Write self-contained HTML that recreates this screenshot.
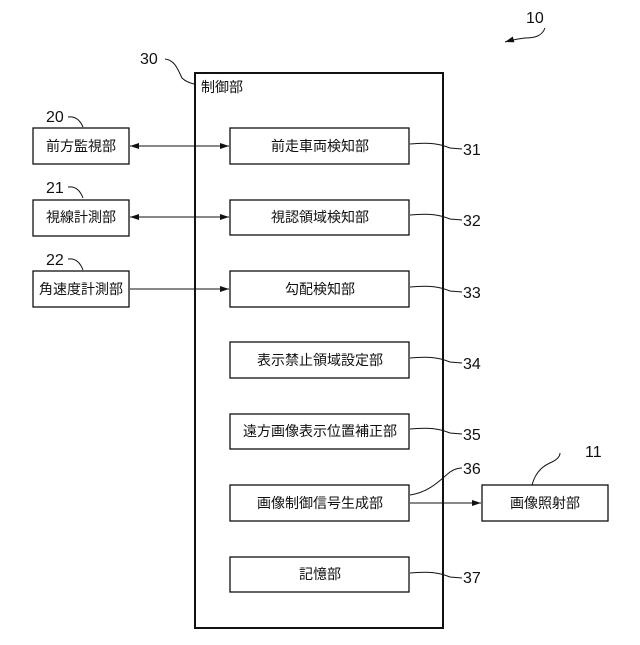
<!DOCTYPE html>
<html><head><meta charset="utf-8"><style>
html,body{margin:0;padding:0;background:#fff;}
svg text{font-family:"Liberation Sans","Noto Sans CJK JP",sans-serif;fill:#111;}
</style></head><body>
<svg width="640" height="640" viewBox="0 0 640 640" xmlns="http://www.w3.org/2000/svg">
<defs><marker id="a" markerWidth="10" markerHeight="8" refX="9" refY="4" orient="auto-start-reverse" markerUnits="userSpaceOnUse"><path d="M0,1 L9,4 L0,7 z" fill="#111"/></marker></defs>
<g fill="none" stroke="#111" stroke-width="1.3">
<rect x="195" y="73" width="248" height="555" stroke-width="2"/>
<rect x="230" y="128" width="179" height="36"/>
<rect x="230" y="200" width="179" height="35"/>
<rect x="230" y="271" width="179" height="36"/>
<rect x="230" y="342" width="179" height="36"/>
<rect x="230" y="414" width="179" height="35"/>
<rect x="230" y="485" width="179" height="36"/>
<rect x="230" y="557" width="179" height="35"/>
<rect x="33" y="128" width="96" height="36"/>
<rect x="33" y="200" width="96" height="36"/>
<rect x="33" y="271" width="96" height="36"/>
<rect x="482" y="485" width="126" height="36"/>
<g stroke-width="1">
<line x1="130" y1="146" x2="229" y2="146" marker-start="url(#a)" marker-end="url(#a)"/>
<line x1="130" y1="217" x2="229" y2="217" marker-start="url(#a)" marker-end="url(#a)"/>
<line x1="130" y1="289" x2="229" y2="289" marker-end="url(#a)"/>
<line x1="410" y1="503" x2="481" y2="503" marker-end="url(#a)"/>
<path d="M410,144 C430,142 440,144 450,148 L462,149"/>
<path d="M410,215 C430,213 440,215 450,219 L462,220"/>
<path d="M410,287 C430,285 440,287 450,291 L462,292"/>
<path d="M410,358 C430,356 440,358 450,362 L462,363"/>
<path d="M410,429 C430,427 440,429 450,433 L462,434"/>
<path d="M410,573 C430,571 440,573 450,577 L462,578"/>
<path d="M410,495 C430,492 440,480 450,472 Q456,468 462,468"/>
<path d="M532,485 C536,470 545,465 552,462 Q560,458 560,453"/>
<path d="M165,59 C175,60 178,70 182,78 Q186,82 194,84"/>
<path d="M68,117 C75,116 80,120 83,127"/>
<path d="M68,187 C75,186 80,190 83,198"/>
<path d="M68,259 C75,258 80,262 83,270"/>
<path d="M545,28 C542,36 535,38 525,38 Q515,39 505,42" marker-end="url(#a)"/>
</g>
</g>
<g font-size="14" text-anchor="middle">
<text x="81" y="151">前方監視部</text>
<text x="81" y="222">視線計測部</text>
<text x="81" y="294">角速度計測部</text>
<text x="320" y="151">前走車両検知部</text>
<text x="320" y="222">視認領域検知部</text>
<text x="320" y="294">勾配検知部</text>
<text x="320" y="365">表示禁止領域設定部</text>
<text x="320" y="436">遠方画像表示位置補正部</text>
<text x="320" y="508">画像制御信号生成部</text>
<text x="320" y="579">記憶部</text>
<text x="545" y="508">画像照射部</text>
<text x="222" y="92">制御部</text>
</g>
<g font-size="16">
<text x="463" y="155">31</text>
<text x="463" y="226">32</text>
<text x="463" y="298">33</text>
<text x="463" y="369">34</text>
<text x="463" y="440">35</text>
<text x="463" y="474">36</text>
<text x="463" y="583">37</text>
<text x="585" y="457">11</text>
<text x="526" y="23">10</text>
<text x="140" y="64">30</text>
<text x="46" y="122">20</text>
<text x="46" y="193">21</text>
<text x="46" y="265">22</text>
</g>
</svg>
</body></html>
